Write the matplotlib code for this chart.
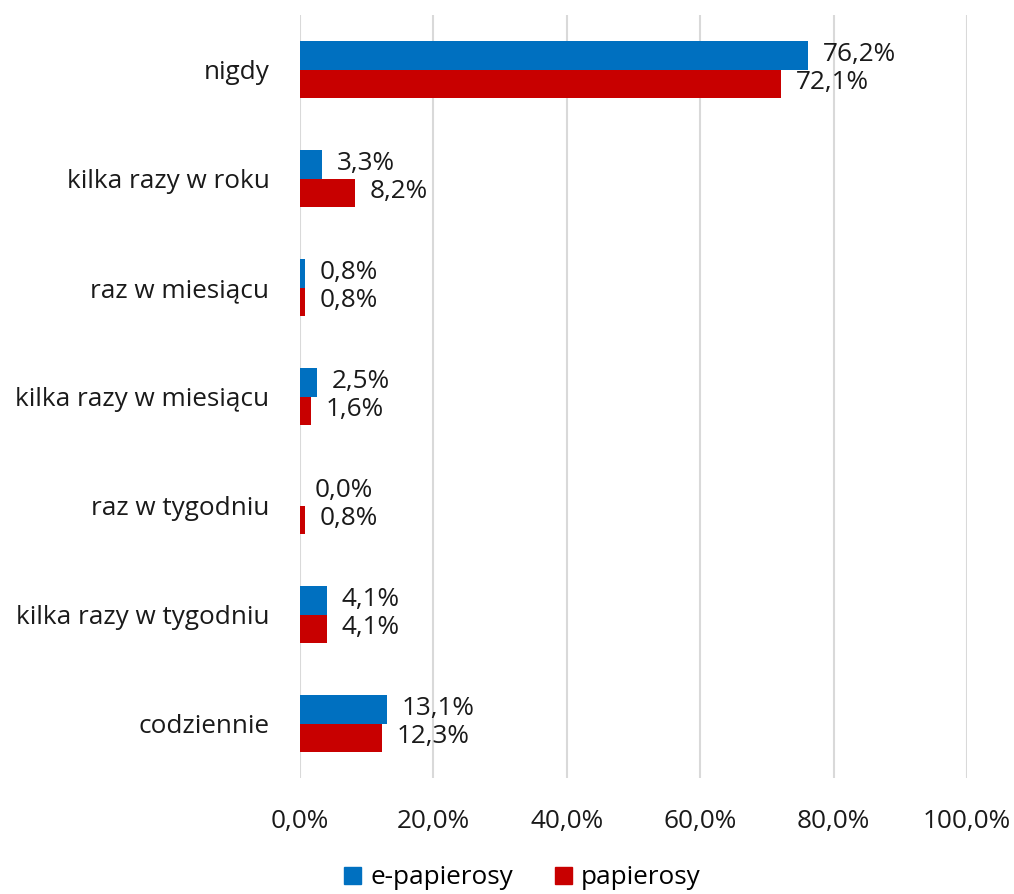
import matplotlib
matplotlib.use("Agg")
import matplotlib.pyplot as plt
from matplotlib.patches import Patch

plt.rcParams['font.family'] = ['Open Sans', 'DejaVu Sans']

categories = ["nigdy", "kilka razy w roku", "raz w miesiącu", "kilka razy w miesiącu",
              "raz w tygodniu", "kilka razy w tygodniu", "codziennie"]
e_papierosy = [76.2, 3.3, 0.8, 2.5, 0.0, 4.1, 13.1]
papierosy = [72.1, 8.2, 0.8, 1.6, 0.8, 4.1, 12.3]
xticks = [0, 20, 40, 60, 80, 100]

blue = "#0070C0"
red = "#C80000"
fs = 18.8


def fmt(v):
    return f"{v:.1f}%".replace(".", ",")


fig = plt.figure(figsize=(10.14, 8.94), dpi=100)
ax = fig.add_axes([300 / 1014, 1 - 778 / 894, 667 / 1014, 763 / 894])

h = 0.257
ypos = list(range(len(categories)))
ax.barh([y - h / 2 for y in ypos], e_papierosy, height=h, color=blue, label="e-papierosy", zorder=3)
ax.barh([y + h / 2 for y in ypos], papierosy, height=h, color=red, label="papierosy", zorder=3)

for y, v in zip(ypos, e_papierosy):
    ax.annotate(fmt(v), (v, y - h / 2), xytext=(10.5, 1), textcoords="offset points",
                va="center", ha="left", fontsize=fs, color="#1a1a1a")
for y, v in zip(ypos, papierosy):
    ax.annotate(fmt(v), (v, y + h / 2), xytext=(10.5, 1), textcoords="offset points",
                va="center", ha="left", fontsize=fs, color="#1a1a1a")

ax.set_xlim(0, 100)
ax.set_ylim(len(categories) - 0.5, -0.5)
ax.set_yticks(ypos)
ax.set_yticklabels(categories, fontsize=fs, color="#1a1a1a")
ax.set_xticks(xticks)
ax.set_xticklabels([fmt(x) for x in xticks], fontsize=fs, color="#1a1a1a")
ax.tick_params(axis="both", length=0)
ax.tick_params(axis="y", pad=22)
ax.tick_params(axis="x", pad=22)
ax.grid(axis="x", color="#d9d9d9", linewidth=1.5, zorder=0)
for s in ax.spines.values():
    s.set_visible(False)

handles = [Patch(color=blue, label="e-papierosy"), Patch(color=red, label="papierosy")]
fig.legend(handles=handles, loc="center", bbox_to_anchor=(0.515, 1 - 878 / 894), ncol=2,
           frameon=False, fontsize=fs, handlelength=0.65, handleheight=0.65,
           handletextpad=0.35, columnspacing=1.6)

fig.savefig("out.png", dpi=100)
